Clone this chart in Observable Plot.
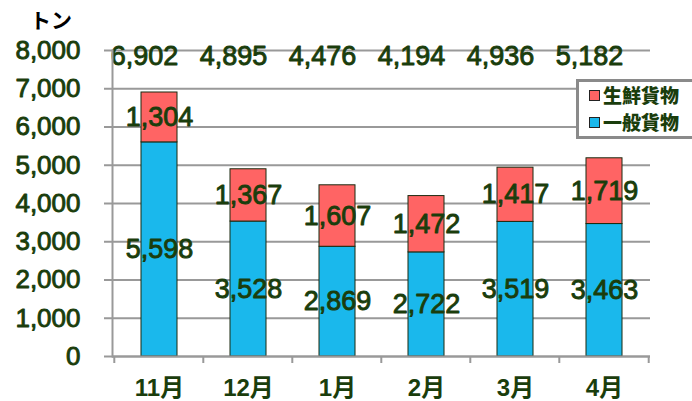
<!DOCTYPE html>
<html><head><meta charset="utf-8">
<script src="https://cdn.jsdelivr.net/npm/d3@7"></script>
<script src="https://cdn.jsdelivr.net/npm/@observablehq/plot@0.6"></script>
<style>
body{margin:0;background:#fff;}
#wrap{position:relative;width:692px;height:401px;overflow:hidden;font-family:"Liberation Sans",Arial,sans-serif;}
#unit{position:absolute;left:30px;top:4px;font-size:21px;font-weight:bold;color:#000;font-family:"Noto Sans CJK JP",sans-serif;}
#legend{position:absolute;left:576px;top:79px;width:130px;height:54px;border:3px solid #8a8a8a;background:#fff;box-sizing:content-box;}
.li{position:absolute;left:10px;height:20px;font-size:19px;font-weight:900;color:#1a3d0c;font-family:"Noto Sans CJK JP",sans-serif;line-height:20px;display:flex;align-items:center;white-space:nowrap;}
.sw{display:inline-block;width:9px;height:9px;border:1px solid #222;margin-right:3px;}
</style></head>
<body><div id="wrap"></div>
<script>
const months = ["11月","12月","1月","2月","3月","4月"];
const general = [5598,3528,2869,2722,3519,3463];
const fresh = [1304,1367,1607,1472,1417,1719];
const totals = [6902,4895,4476,4194,4936,5182];
const seriesNames = ["一般貨物","生鮮貨物"];
const seriesColors = ["#1ab8ec","#ff6464"];
const yTicks = [0,1000,2000,3000,4000,5000,6000,7000,8000];
const unitLabel = "トン";

const fmt = d3.format(",");
const green = "#1a3d0c";
const grey = "#999";
const data = months.flatMap((m,i)=>[
  {month:m,type:seriesNames[0],value:general[i]},
  {month:m,type:seriesNames[1],value:fresh[i]}
]);
const thick = {stroke:green, strokeWidth:0.9, fill:green};

const chart = Plot.plot({
  width:692, height:401,
  marginLeft:112, marginRight:42, marginTop:50, marginBottom:45,
  style:{fontFamily:"'Liberation Sans', Arial, sans-serif", color:green, background:"#fff"},
  x:{domain:months, paddingInner:0.6, paddingOuter:0.3, label:null},
  y:{domain:[0,8000], label:null},
  color:{domain:seriesNames, range:seriesColors},
  marks:[
    Plot.gridY(yTicks,{stroke:grey, strokeOpacity:1, strokeWidth:2}),
    Plot.axisY(yTicks,{tickSize:8, stroke:grey, strokeWidth:2, label:null, text:null}),
    Plot.text(yTicks,{y:d=>d, text:d=>fmt(d), frameAnchor:"left", textAnchor:"end", dx:-32, fontSize:26, ...thick}),
    Plot.axisX({tickSize:0, tickPadding:22, fontSize:24, fontWeight:"bold", fill:green, stroke:green, strokeWidth:0.6, label:null, fontFamily:"'Liberation Sans', 'Noto Sans CJK JP', sans-serif"}),
    Plot.barY(data, Plot.stackY({x:"month", y:"value", z:"type", fill:"type", stroke:"#1a2a10", strokeWidth:1})),
    Plot.text(data, Plot.stackY({x:"month", y:"value", z:"type", text:d=>fmt(d.value), fontSize:27, ...thick})),
    Plot.text(months, {x:d=>d, y:()=>8000, text:(d,i)=>fmt(totals[i]), dy:6, dx:-15, fontSize:27, ...thick}),
    Plot.ruleY([0],{stroke:grey, strokeWidth:2}),
    Plot.frame({anchor:"left", stroke:grey, strokeWidth:2})
  ]
});
document.getElementById("wrap").appendChild(chart);

// boundary tick marks on the x axis, from the band scale
const xs = chart.scale("x");
const step = xs.step;
const y0 = chart.scale("y").apply(0);
const bounds = months.map(m=>xs.apply(m) - xs.paddingInner*step/2);
bounds.push(xs.apply(months[months.length-1]) + xs.bandwidth + xs.paddingInner*step/2);
d3.select(chart).append("g").selectAll("line").data(bounds).join("line")
  .attr("x1",d=>d).attr("x2",d=>d).attr("y1",y0).attr("y2",y0+7)
  .attr("stroke",grey).attr("stroke-width",2);

const wrap = document.getElementById("wrap");
const u = document.createElement("div"); u.id="unit"; u.textContent=unitLabel; wrap.appendChild(u);
const lg = document.createElement("div"); lg.id="legend";
[[1,3],[0,30]].forEach(([k,top])=>{
  const it=document.createElement("div"); it.className="li"; it.style.top=top+"px";
  const sw=document.createElement("span"); sw.className="sw"; sw.style.background=seriesColors[k];
  it.appendChild(sw); it.appendChild(document.createTextNode(seriesNames[k]));
  lg.appendChild(it);
});
wrap.appendChild(lg);
</script></body></html>
